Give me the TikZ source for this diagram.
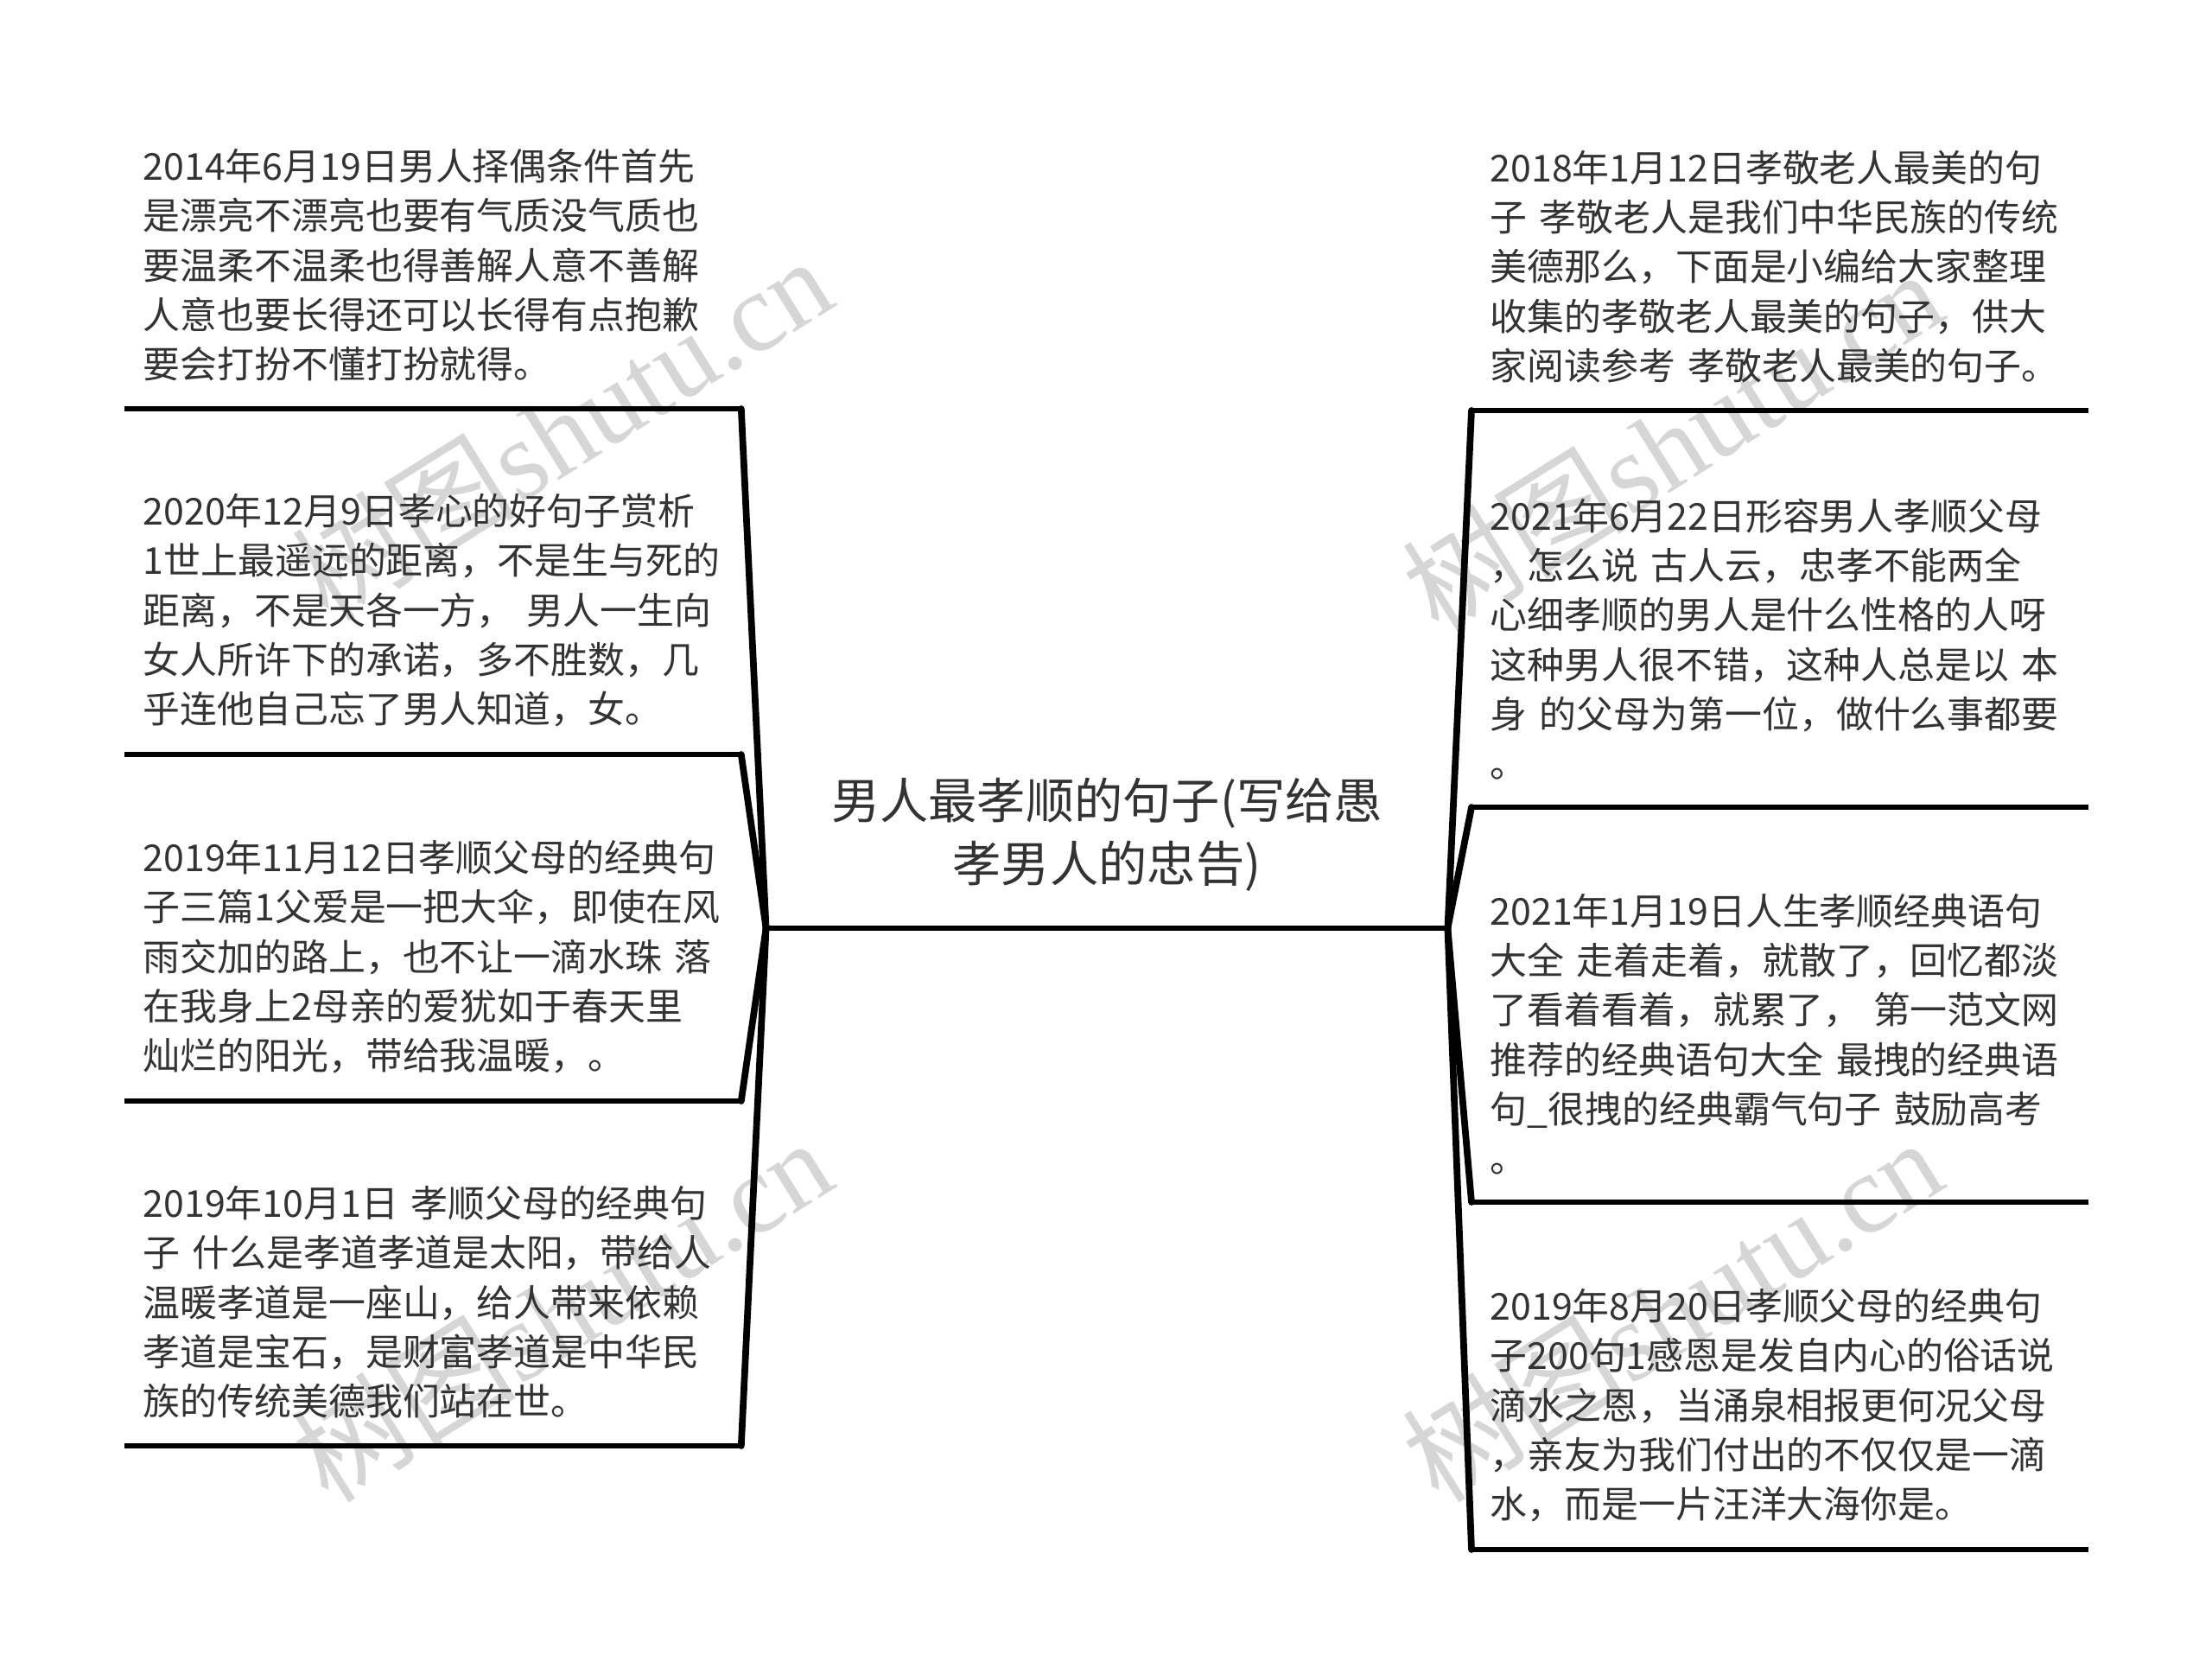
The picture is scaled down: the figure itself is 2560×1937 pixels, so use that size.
\documentclass[tikz,border=0pt]{standalone}
\usepackage{fontspec}
\usepackage{xcolor}
\usepackage{tikz}
\usetikzlibrary{positioning}
\setmainfont{Noto Sans CJK SC}
\newfontfamily\latinserif{Liberation Serif}
\definecolor{texto}{HTML}{333333}
\definecolor{marcagris}{HTML}{D6D6D6}

\begin{document}
\begin{tikzpicture}[
    x=0.01cm, y=-0.01cm,
    hoja/.style={anchor=south west, text width=6.70cm, align=left, inner xsep=0.21cm, inner ysep=0.31cm, text=texto, font=\fontsize{12.2pt}{16.3pt}\selectfont},
    tema/.style={anchor=south, text width=7.0cm, align=center, inner xsep=0.435cm, inner ysep=0.42cm, text=texto, font=\fontsize{16pt}{20.7pt}\selectfont},
    raya/.style={line width=1.5pt, black},
    rama/.style={line width=2.2pt, black, line cap=round},
    marca/.style={rotate=32, text=marcagris, font=\fontsize{37pt}{37pt}\selectfont}
]

\useasboundingbox[fill=white] (0,0) rectangle (2560,1937);

\node (wm1) [marca] at (650,495) {树图{\latinserif shutu.cn}};
\node (wm2) [marca] at (650,1515) {树图{\latinserif shutu.cn}};
\node (wm3) [marca] at (1935,510) {树图{\latinserif shutu.cn}};
\node (wm4) [marca] at (1935,1515) {树图{\latinserif shutu.cn}};

\node (tema) [tema] at (1281,1074) {男人最孝顺的句子(写给愚\\孝男人的忠告)};

\node (l1) [hoja] at (144,473) {2014年6月19日男人择偶条件首先\\是漂亮不漂亮也要有气质没气质也\\要温柔不温柔也得善解人意不善解\\人意也要长得还可以长得有点抱歉\\要会打扮不懂打扮就得。};

\node (l2) [hoja] at (144,873) {2020年12月9日孝心的好句子赏析\\1世上最遥远的距离，不是生与死的\\距离，不是天各一方，~男人一生向\\女人所许下的承诺，多不胜数，几\\乎连他自己忘了男人知道，女。};

\node (l3) [hoja] at (144,1274) {2019年11月12日孝顺父母的经典句\\子三篇1父爱是一把大伞，即使在风\\雨交加的路上，也不让一滴水珠~落\\在我身上2母亲的爱犹如于春天里\\灿烂的阳光，带给我温暖，。};

\node (l4) [hoja] at (144,1673) {2019年10月1日~孝顺父母的经典句\\子~什么是孝道孝道是太阳，带给人\\温暖孝道是一座山，给人带来依赖\\孝道是宝石，是财富孝道是中华民\\族的传统美德我们站在世。};

\node (r1) [hoja] at (1703,475) {2018年1月12日孝敬老人最美的句\\子~孝敬老人是我们中华民族的传统\\美德那么，下面是小编给大家整理\\收集的孝敬老人最美的句子，供大\\家阅读参考~孝敬老人最美的句子。};

\node (r2) [hoja] at (1703,934) {2021年6月22日形容男人孝顺父母\\，怎么说~古人云，忠孝不能两全\\心细孝顺的男人是什么性格的人呀\\这种男人很不错，这种人总是以~本\\身~的父母为第一位，做什么事都要\\。};

\node (r3) [hoja] at (1703,1391) {2021年1月19日人生孝顺经典语句\\大全~走着走着，就散了，回忆都淡\\了看着看着，就累了，~第一范文网\\推荐的经典语句大全~最拽的经典语\\句\_很拽的经典霸气句子~鼓励高考\\。};

\node (r4) [hoja] at (1703,1793) {2019年8月20日孝顺父母的经典句\\子200句1感恩是发自内心的俗话说\\滴水之恩，当涌泉相报更何况父母\\，亲友为我们付出的不仅仅是一滴\\水，而是一片汪洋大海你是。};

\draw [raya] (tema.south west) -- (tema.south east);
\draw [raya] (l1.south west) -- (l1.south east);
\draw [raya] (l2.south west) -- (l2.south east);
\draw [raya] (l3.south west) -- (l3.south east);
\draw [raya] (l4.south west) -- (l4.south east);
\draw [raya] (r1.south west) -- (r1.south east);
\draw [raya] (r2.south west) -- (r2.south east);
\draw [raya] (r3.south west) -- (r3.south east);
\draw [raya] (r4.south west) -- (r4.south east);

\draw [rama] (tema.south west) -- (l1.south east);
\draw [rama] (tema.south west) -- (l2.south east);
\draw [rama] (tema.south west) -- (l3.south east);
\draw [rama] (tema.south west) -- (l4.south east);
\draw [rama] (tema.south east) -- (r1.south west);
\draw [rama] (tema.south east) -- (r2.south west);
\draw [rama] (tema.south east) -- (r3.south west);
\draw [rama] (tema.south east) -- (r4.south west);

\end{tikzpicture}
\end{document}
